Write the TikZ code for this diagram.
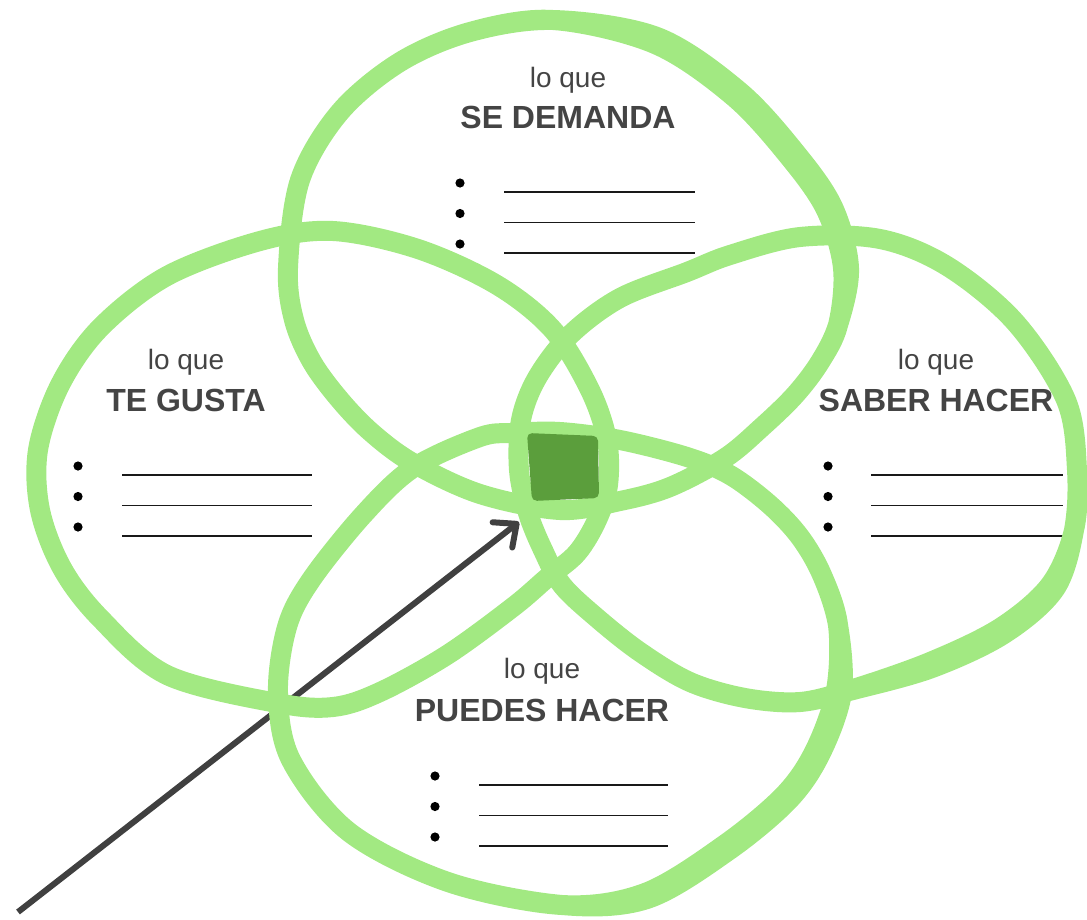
\documentclass[tikz,border=0pt]{standalone}
\usepackage{fontspec}
\setmainfont{Liberation Sans}
\usetikzlibrary{arrows.meta}
\definecolor{ringgreen}{RGB}{162,233,130}
\definecolor{coregreen}{RGB}{91,158,60}
\definecolor{txtgray}{RGB}{68,68,68}
\definecolor{arrowgray}{RGB}{64,64,64}
\tikzset{
  ring/.style={draw=ringgreen, line width=20pt, line join=round},
  lbl/.style={text=txtgray, font=\fontsize{28}{32}\selectfont, anchor=base, inner sep=0pt},
  ttl/.style={text=txtgray, font=\fontsize{32}{36}\selectfont\bfseries, anchor=base, inner sep=0pt},
  blank/.style={draw=black!90, line width=1.8pt},
  dot/.style={fill=black},
  pointer/.style={draw=arrowgray, line width=6pt, -{Straight Barb[length=18pt,width=32pt,round]}}
}
\begin{document}
\begin{tikzpicture}[x=1pt,y=-1pt]
\useasboundingbox (0,0) rectangle (1087,919);
% texts
\node[lbl] (dq) at (568,87) {lo que};
\node[ttl] (dt) at (568,128) {SE DEMANDA};
\node[lbl] (gq) at (186,369) {lo que};
\node[ttl] (gt) at (186,411) {TE GUSTA};
\node[lbl] (sq) at (936,369) {lo que};
\node[ttl] (st) at (936,411) {SABER HACER};
\node[lbl] (pq) at (542,678) {lo que};
\node[ttl] (pt) at (542,721) {PUEDES HACER};
% bullets and blanks
\foreach \y in {0,30.5,61}{
  \fill[dot] (460,183+\y) circle (4.6);
  \draw[blank] (504,192+\y) -- (695,192+\y);
  \fill[dot] (78,466+\y) circle (4.6);
  \draw[blank] (122,475+\y) -- (312,475+\y);
  \fill[dot] (828,466+\y) circle (4.6);
  \draw[blank] (871,475+\y) -- (1063,475+\y);
  \fill[dot] (435,776+\y) circle (4.6);
  \draw[blank] (479,785+\y) -- (668,785+\y);
}
% arrow
\coordinate (astart) at (18,912);
\coordinate (atip) at (519,522);
\draw[pointer] (astart) -- (atip);
% ring: se demanda (second subpath widens the upper right)
\draw[ring] plot[smooth cycle, tension=0.55] coordinates {
 (553,20) (655,44) (734,97) (790,158) (826,210) (843,268) (838,325) (820,362)
 (795,395) (762,427) (725,458) (670,487) (620,501) (560,510) (480,494) (413,463)
 (372,433) (340,400) (312,362) (294,320) (288,268) (300,180) (340,112) (400,62) (470,32)}
 plot[smooth cycle, tension=0.55] coordinates {
 (553,20) (657,37) (739,91) (796,153) (833,207) (849,268) (838,325) (820,362)
 (795,395) (762,427) (725,458) (670,487) (620,501) (560,510) (480,494) (413,463)
 (372,433) (340,400) (312,362) (294,320) (288,268) (300,180) (340,112) (400,62) (470,32)};
% ring: te gusta
\draw[ring] plot[smooth cycle, tension=0.55] coordinates {
 (333,231) (418,249) (497,285) (553,330) (590,390) (607,440) (608,485) (597,520)
 (577,553) (547,578) (513,607) (447,655) (380,692) (333,707) (277,703) (167,675)
 (100,618) (62,568) (40,510) (38,450) (60,385) (100,328) (167,276) (260,241)};
% ring: saber hacer
\draw[ring] plot[smooth cycle, tension=0.55] coordinates {
 (519,470) (528,513) (543,550) (562,585) (597,618) (640,652) (690,682) (745,698)
 (800,702) (853,689) (930,662) (1000,628) (1050,585) (1074,530) (1077,470) (1066,400)
 (1015,322) (947,266) (880,239) (800,237) (730,255) (687,272) (620,298) (570,335)
 (537,378) (521,420)}
 plot[smooth cycle, tension=0.55] coordinates {
 (519,470) (528,513) (543,550) (562,585) (597,618) (640,652) (690,682) (745,698)
 (800,702) (853,690) (932,668) (1004,634) (1055,589) (1074,530) (1077,470) (1066,400)
 (1015,322) (947,266) (880,239) (800,237) (730,255) (687,272) (620,298) (570,335)
 (537,378) (521,420)};
% ring: puedes hacer
\draw[ring] plot[smooth cycle, tension=0.55] coordinates {
 (560,432) (620,440) (687,457) (730,475) (770,505) (800,537) (822,575) (838,625)
 (836,690) (815,750) (784,795) (724,845) (645,893) (562,905) (448,882) (349,832)
 (291,760) (278,693) (287,627) (311,580) (363,515) (413,468) (480,437) (513,433)}
 plot[smooth cycle, tension=0.55] coordinates {
 (560,432) (620,440) (687,457) (730,475) (770,505) (800,537) (822,575) (838,625)
 (842,692) (821,753) (789,800) (728,851) (647,899) (562,905) (448,882) (349,832)
 (291,760) (278,693) (287,627) (311,580) (363,515) (413,468) (480,437) (513,433)};
% core
\fill[coregreen, rounded corners=5pt] (527,433) -- (598,436) -- (599,498) -- (532,501) -- cycle;
\end{tikzpicture}
\end{document}
